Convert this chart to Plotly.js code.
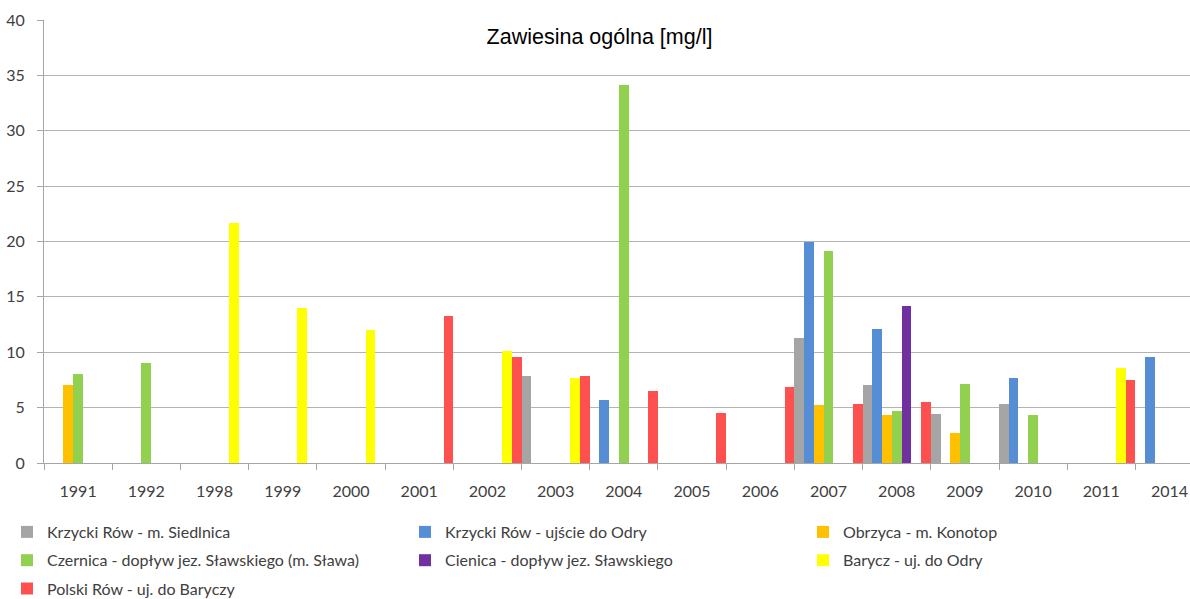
<!DOCTYPE html>
<html>
<head>
<meta charset="utf-8">
<script src="https://cdn.plot.ly/plotly-3.0.1.min.js"></script>
<style>html,body{margin:0;padding:0;background:#fff;}#chart{width:1190px;height:599px;}</style>
</head>
<body>
<div id="chart"></div>
<script>
const years = ['1991','1992','1998','1999','2000','2001','2002','2003','2004','2005','2006','2007','2008','2009','2010','2011','2014'];
const krzyckiSiedlnica = [null,null,null,null,null,null,null,7.9,null,null,null,11.3,7.0,4.4,5.3,null,null];
const krzyckiUjscie    = [null,null,null,null,null,null,null,null,5.7,null,null,20.0,12.1,null,7.7,null,9.6];
const obrzyca          = [7.0,null,null,null,null,null,null,null,null,null,null,5.2,4.3,2.7,null,null,null];
const czernica         = [8.0,9.0,null,null,null,null,null,null,34.1,null,null,19.1,4.7,7.1,4.3,null,null];
const cienica          = [null,null,null,null,null,null,null,null,null,null,null,null,14.2,null,null,null,null];
const barycz           = [null,null,21.7,14.0,12.0,null,10.1,7.7,null,null,null,null,null,null,null,8.6,null];
const polskiRow        = [null,null,null,null,null,13.3,9.6,7.9,6.5,4.5,6.9,5.3,5.5,null,null,7.5,null];

const seriesNames = ['Krzycki Rów - m. Siedlnica','Krzycki Rów - ujście do Odry','Obrzyca - m. Konotop',
  'Czernica - dopływ jez. Sławskiego (m. Sława)','Cienica - dopływ jez. Sławskiego','Barycz - uj. do Odry',
  'Polski Rów - uj. do Baryczy'];
const seriesValues = [krzyckiSiedlnica,krzyckiUjscie,obrzyca,czernica,cienica,barycz,polskiRow];
const colors = ['#A5A5A5','#558ED5','#FFC000','#92D050','#7030A0','#FFFF00','#FF5050'];
// legend columns as in the reference (3 columns, filled row by row)
const legendIds = ['legend','legend2','legend3','legend','legend2','legend3','legend'];

const traces = seriesNames.map((n,i)=>({
  type:'bar', name:n, x:years, y:seriesValues[i], legendgroup:'g'+i,
  marker:{color:colors[i], line:{width:0}}, legend:legendIds[i]
}));

const font = 'Lato, "Open Sans", sans-serif';
const L = 44, T = 20, W = 1190, H = 599, B = 136;
const plotW = W - L, plotH = H - T - B;
function px2x(p){return (p-L)/plotW;}
function py2y(p){return (H-B-p)/plotH;}
const legCommon = {orientation:'v', xanchor:'left', yanchor:'top', tracegroupgap:4.5, traceorder:'grouped',
  font:{family:font, size:16, color:'#404040'}, bgcolor:'rgba(0,0,0,0)', borderwidth:0, y:py2y(515)};

const layout = {
  width:W, height:H,
  margin:{l:L, r:0, t:T, b:B, pad:0, autoexpand:false},
  paper_bgcolor:'#fff', plot_bgcolor:'#fff',
  barmode:'group', bargap:0, bargroupgap:0,
  showlegend:true,
  title:{text:'Zawiesina ogólna [mg/l]', font:{family:'"Liberation Sans", Arial, sans-serif', size:21.5, color:'#000'},
    x:599.5/W, xref:'container', xanchor:'center', y:1-36/H, yref:'container', yanchor:'middle'},
  xaxis:{type:'category', range:[-0.5,16.3], tickson:'boundaries', ticks:'outside', ticklen:6, tickcolor:'#A6A6A6',
    showline:true, linecolor:'#A6A6A6', linewidth:1, showgrid:false, zeroline:false, ticklabelstandoff:14,
    tickfont:{family:font, size:16, color:'#404040'}},
  yaxis:{range:[0,40], dtick:5, tick0:0, ticks:'outside', ticklen:6, tickcolor:'#A6A6A6',
    showline:true, linecolor:'#A6A6A6', linewidth:1, showgrid:true, gridcolor:'#B3B3B3', gridwidth:1, zeroline:false,
    ticklabelstandoff:9, tickfont:{family:font, size:16, color:'#404040'}},
  legend:Object.assign({x:px2x(7)}, legCommon),
  legend2:Object.assign({x:px2x(405)}, legCommon),
  legend3:Object.assign({x:px2x(803)}, legCommon)
};
Plotly.newPlot('chart', traces, layout, {displayModeBar:false, staticPlot:true});
</script>
</body>
</html>
